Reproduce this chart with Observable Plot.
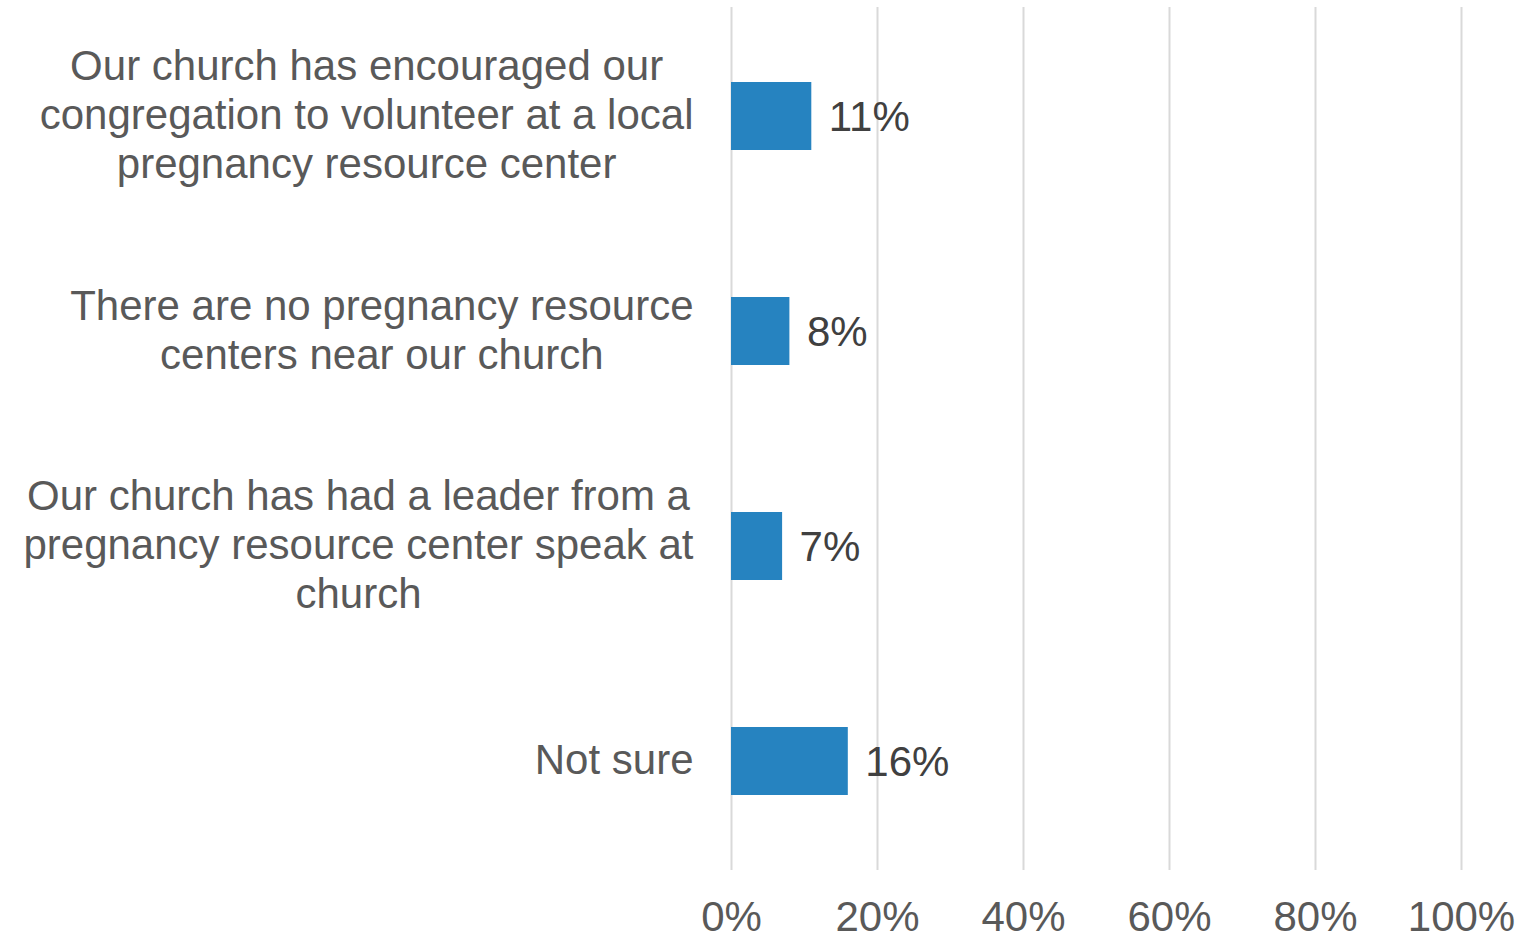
<!DOCTYPE html>
<html>
<head>
<meta charset="utf-8">
<script src="https://cdn.jsdelivr.net/npm/d3@7"></script>
<script src="https://cdn.jsdelivr.net/npm/@observablehq/plot@0.6"></script>
<style>
  html, body { margin: 0; padding: 0; background: #fff; }
</style>
</head>
<body>
<div id="chart"></div>
<script>
const categories = [
  "Our church has encouraged our\ncongregation to volunteer at a local\npregnancy resource center",
  "There are no pregnancy resource\ncenters near our church",
  "Our church has had a leader from a\npregnancy resource center speak at\nchurch",
  "Not sure"
];
const values = [11, 8, 7, 16];
const xTicks = [0, 20, 40, 60, 80, 100];

const data = categories.map((c, i) => ({category: c, value: values[i]}));

const FONT = "Liberation Sans, Arial, sans-serif";
const ctx = document.createElement("canvas").getContext("2d");
ctx.font = `42px "Liberation Sans", Arial, sans-serif`;
const maxLineWidth = s => Math.max(...s.split("\n").map(l => ctx.measureText(l).width));

const labelMarks = data.map(d =>
  Plot.text([d], {
    x: () => 0, y: "category", text: "category",
    textAnchor: "middle", lineAnchor: "middle", lineHeight: 1.167,
    fontSize: 42, fill: "#595959",
    dx: -38 - maxLineWidth(d.category) / 2, dy: -3
  })
);

const chart = Plot.plot({
  width: 1526,
  height: 940,
  marginLeft: 731,
  marginRight: 65,
  marginTop: 7,
  marginBottom: 70,
  style: {fontFamily: FONT, fontSize: "42px", background: "#fff"},
  x: {domain: [0, 100]},
  y: {domain: categories, paddingInner: 0.685, paddingOuter: 0.3425, axis: null},
  marks: [
    Plot.gridX(xTicks, {stroke: "#d9d9d9", strokeOpacity: 1, strokeWidth: 2}),
    Plot.barX(data, {x: "value", y: "category", fill: "#2683c0"}),
    Plot.text(data, {
      x: "value", y: "category", text: d => d.value + "%",
      textAnchor: "start", dx: 17, dy: 1, fontSize: 42, fill: "#404040"
    }),
    ...labelMarks,
    Plot.axisX(xTicks, {
      tickSize: 0, tickPadding: 31, tickFormat: d => d + "%",
      fontSize: 42, color: "#595959", label: null
    })
  ]
});
document.getElementById("chart").appendChild(chart);
</script>
</body>
</html>
